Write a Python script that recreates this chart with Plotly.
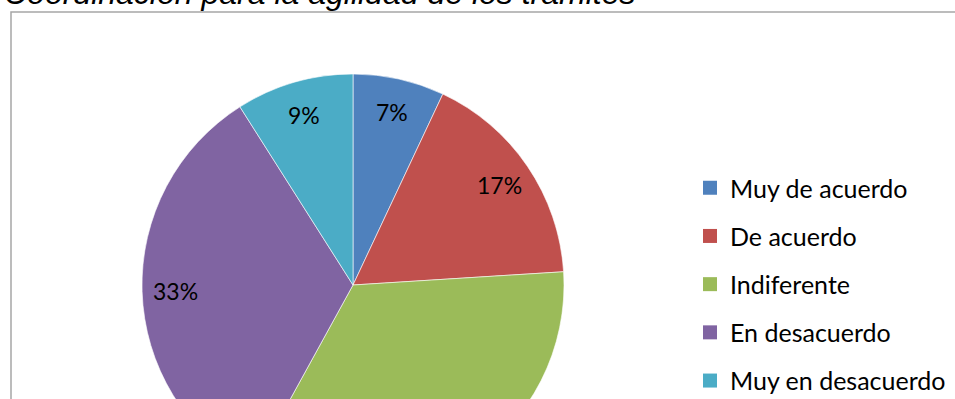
import math
import plotly.graph_objects as go

categories = ["Muy de acuerdo", "De acuerdo", "Indiferente", "En desacuerdo", "Muy en desacuerdo"]
values = [7, 17, 34, 33, 9]
colors = ["#4F81BD", "#C0504D", "#9BBB59", "#8064A2", "#4BACC6"]
title_text = "Coordinación para la agilidad de los trámites"

W, H = 955, 520
cx, cy, r = 353, 285, 211
label_frac = 0.84

fig = go.Figure()
fig.add_trace(go.Pie(
    labels=categories, values=values, sort=False, direction="clockwise", rotation=0,
    marker=dict(colors=colors, line=dict(color="white", width=0.6)),
    textinfo="none",
    showlegend=False, hoverinfo="label+percent",
    domain=dict(x=[(cx - r) / W, (cx + r) / W], y=[(H - cy - r) / H, (H - cy + r) / H]),
))

# percentage labels placed at the middle angle of each slice (Excel style)
total = sum(values)
cum = 0
for v in values:
    mid = (cum + v / 2) / total * 2 * math.pi
    cum += v
    px = cx + label_frac * r * math.sin(mid)
    py = cy - label_frac * r * math.cos(mid)
    fig.add_annotation(text=f"{round(v / total * 100)}%", xref="paper", yref="paper",
                       x=px / W, y=(H - py) / H, xanchor="center", yanchor="middle",
                       showarrow=False, font=dict(family="Lato", size=23, color="black"))

for c, col in zip(categories, colors):
    fig.add_trace(go.Scatter(
        x=[None], y=[None], mode="markers", name=c, legendgroup=c,
        marker=dict(symbol="square", size=14, color=col),
    ))

fig.add_shape(type="rect", xref="paper", yref="paper",
              x0=11 / W, x1=1.02, y0=-0.05, y1=(H - 12) / H,
              line=dict(color="#A6A6A6", width=1.5), fillcolor="rgba(0,0,0,0)")

fig.add_annotation(text="<i>" + title_text + "</i>", xref="paper", yref="paper",
                   x=2 / W, y=(H - 13) / H, xanchor="left", yanchor="bottom", showarrow=False,
                   font=dict(family="Liberation Sans", size=32, color="black"))

fig.update_layout(
    width=W, height=H, margin=dict(l=0, r=0, t=0, b=0),
    paper_bgcolor="white", plot_bgcolor="white",
    xaxis=dict(visible=False), yaxis=dict(visible=False),
    legend=dict(x=690 / W, y=(H - 165) / H, xanchor="left", yanchor="top",
                font=dict(family="Lato", size=25, color="black"),
                tracegroupgap=12.7, bgcolor="rgba(0,0,0,0)"),
)

fig.write_html("out.html", post_script="document.body.style.margin='0';document.body.style.overflow='hidden';document.documentElement.style.overflow='hidden';")
